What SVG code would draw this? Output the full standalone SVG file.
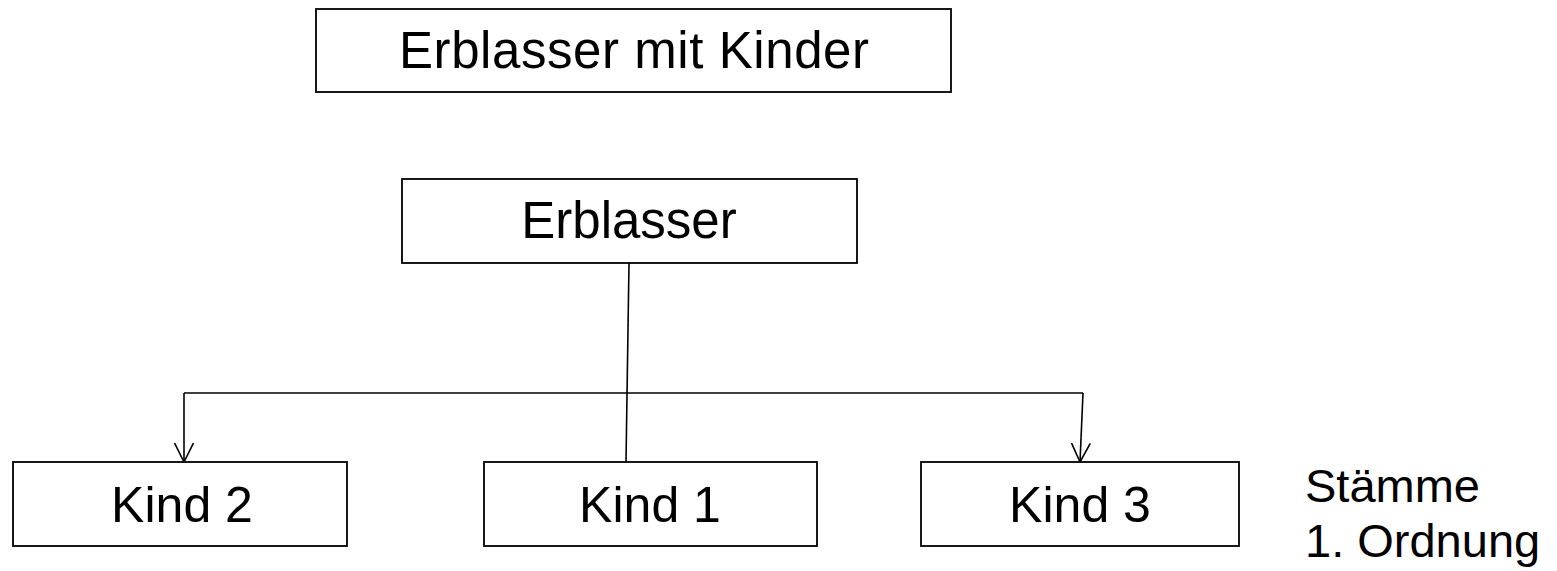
<svg xmlns="http://www.w3.org/2000/svg" width="1557" height="571" viewBox="0 0 1557 571">
  <style>
    .box { fill: #fff; stroke: #000; stroke-width: 1.8; }
    .lbl { font-family: "Liberation Sans", Arial, sans-serif; font-size: 50px; fill: #000; text-anchor: middle; }
    .big { font-size: 51px; }
    .note { font-family: "Liberation Sans", Arial, sans-serif; font-size: 47px; fill: #000; }
    .wire { fill: none; stroke: #000; stroke-width: 1.6; }
  </style>
  <defs>
    <!-- open V-shaped arrowhead, drawn along +x so orient="auto" turns it with the line -->
    <marker id="arrow" viewBox="0 0 20 20" refX="19" refY="10" markerWidth="20" markerHeight="20" markerUnits="userSpaceOnUse" orient="auto">
      <path d="M0,0.5 L19,10 L0,19.5" fill="none" stroke="#000" stroke-width="1.6"/>
    </marker>
  </defs>
  <rect width="1557" height="571" fill="#fff"/>

  <g id="title">
    <rect class="box" x="316" y="9" width="635" height="83"/>
    <text class="lbl big" x="634" y="68" textLength="470" lengthAdjust="spacing">Erblasser mit Kinder</text>
  </g>

  <g id="connectors">
    <line class="wire" x1="629" y1="263" x2="626" y2="462"/>
    <line class="wire" x1="184" y1="393" x2="1083" y2="393" stroke-width="2.2"/>
    <line class="wire" x1="184" y1="393" x2="184" y2="462" marker-end="url(#arrow)"/>
    <line class="wire" x1="1083" y1="393" x2="1080" y2="462" marker-end="url(#arrow)"/>
  </g>

  <g id="erblasser">
    <rect class="box" x="402" y="179" width="455" height="84"/>
    <text class="lbl big" x="629" y="238">Erblasser</text>
  </g>

  <g id="kind2">
    <rect class="box" x="13" y="462" width="334" height="84"/>
    <text class="lbl" x="182" y="522">Kind 2</text>
  </g>

  <g id="kind1">
    <rect class="box" x="484" y="462" width="333" height="84"/>
    <text class="lbl" x="650" y="522">Kind 1</text>
  </g>

  <g id="kind3">
    <rect class="box" x="921" y="462" width="318" height="84"/>
    <text class="lbl" x="1080" y="522">Kind 3</text>
  </g>

  <g id="staemme">
    <text class="note" x="1305" y="502">Stämme</text>
    <text class="note" x="1305" y="557">1. Ordnung</text>
  </g>
</svg>
